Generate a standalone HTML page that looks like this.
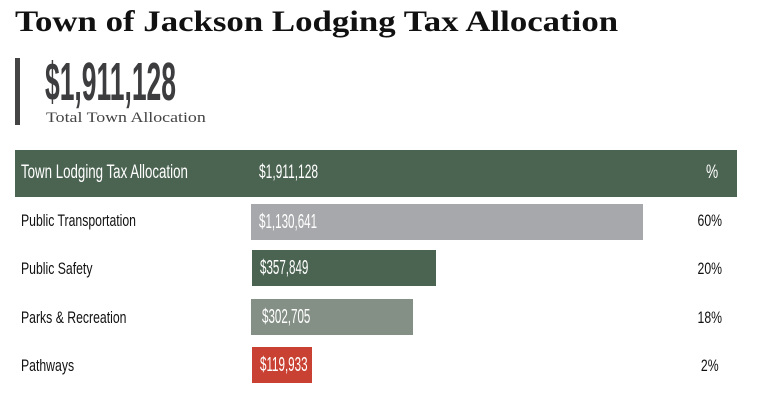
<!DOCTYPE html>
<html><head><style>
body{margin:0;width:761px;height:410px;background:#fff;position:relative;overflow:hidden;font-family:"Liberation Sans",sans-serif}
.a{position:absolute;white-space:nowrap}
.c{display:inline-block;transform:scaleX(.72);transform-origin:left center}
.r{display:inline-block;transform:scaleX(.72);transform-origin:right center}
.lbl{font-size:17px;color:#111}
.bar{position:absolute;height:36px}
.bv{position:absolute;left:8px;top:7px;font-size:20px;color:#fff;transform:scaleX(.58)}
</style></head><body>
<div class="a" style="left:15px;top:5px;font-family:'Liberation Serif',serif;font-weight:bold;font-size:30px;color:#111"><span style="display:inline-block;transform:scaleX(1.16);transform-origin:left">Town of Jackson Lodging Tax Allocation</span></div>
<div class="a" style="left:15px;top:58px;width:5px;height:67px;background:#444"></div>
<div class="a" style="left:45px;top:51px;font-size:54px;font-weight:bold;color:#3d3d40"><span class="c" style="transform:scaleX(.49)">$1,911,128</span></div>
<div class="a" style="left:46px;top:110px;font-family:'Liberation Serif',serif;font-size:15px;color:#444"><span class="c" style="transform:scaleX(1.19)">Total Town Allocation</span></div>
<div class="a" style="left:15px;top:150px;width:722px;height:47px;background:#4b6351"></div>
<div class="a" style="left:21px;top:162px;font-size:19px;color:#fff"><span class="c" style="transform:scaleX(.7)">Town Lodging Tax Allocation</span></div>
<div class="a" style="left:259px;top:162px;font-size:19px;color:#fff"><span class="c" style="transform:scaleX(.63)">$1,911,128</span></div>
<div class="a" style="left:706px;top:162px;font-size:19px;color:#fff"><span class="c">%</span></div>

<div class="a lbl" style="left:21px;top:211px"><span class="c">Public Transportation</span></div>
<div class="bar" style="left:251px;top:204px;width:392px;background:#a7a8ab"><span class="bv c" style="transform:scaleX(.58)">$1,130,641</span></div>
<div class="a lbl" style="left:660px;top:211px;width:62px;text-align:right"><span class="r">60%</span></div>

<div class="a lbl" style="left:21px;top:259px"><span class="c">Public Safety</span></div>
<div class="bar" style="left:252px;top:250px;width:184px;background:#4b6351"><span class="bv c" style="transform:scaleX(.58)">$357,849</span></div>
<div class="a lbl" style="left:660px;top:259px;width:62px;text-align:right"><span class="r">20%</span></div>

<div class="a lbl" style="left:21px;top:308px"><span class="c">Parks &amp; Recreation</span></div>
<div class="bar" style="left:251px;top:299px;width:162px;background:#848f85"><span class="bv c" style="left:11px;transform:scaleX(.58)">$302,705</span></div>
<div class="a lbl" style="left:660px;top:308px;width:62px;text-align:right"><span class="r">18%</span></div>

<div class="a lbl" style="left:21px;top:356px"><span class="c">Pathways</span></div>
<div class="bar" style="left:252px;top:347px;width:60px;background:#c94132"><span class="bv c" style="transform:scaleX(.58)">$119,933</span></div>
<div class="a lbl" style="left:660px;top:356px;width:59px;text-align:right"><span class="r">2%</span></div>
</body></html>
